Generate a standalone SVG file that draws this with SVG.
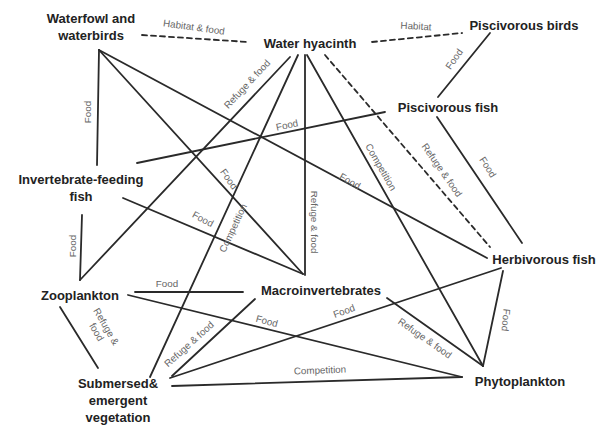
<svg xmlns="http://www.w3.org/2000/svg" width="605" height="429" viewBox="0 0 605 429">
<style>
.n{font-family:"Liberation Sans",Arial,sans-serif;font-weight:bold;font-size:13px;fill:#222;text-anchor:middle}
.l{font-family:"Liberation Sans",Arial,sans-serif;font-size:9.8px;fill:#666;text-anchor:middle;dominant-baseline:central}
.c{stroke:#2a2a2a;stroke-width:1.8;fill:none;stroke-linecap:round}
.d{stroke-dasharray:5,4}
</style>
<rect width="605" height="429" fill="#fff"/>
<g id="connectors">
<line class="c d" x1="142" y1="35" x2="248" y2="42"/>
<line class="c d" x1="372" y1="42" x2="462" y2="33"/>
<line class="c" x1="490" y1="33" x2="438" y2="97"/>
<line class="c" x1="99" y1="50" x2="97" y2="165"/>
<line class="c" x1="99" y1="50" x2="303" y2="274"/>
<line class="c" x1="99" y1="50" x2="487" y2="258"/>
<line class="c" x1="290" y1="57" x2="80" y2="280"/>
<line class="c" x1="298" y1="55" x2="150" y2="377"/>
<line class="c" x1="305" y1="55" x2="305" y2="275"/>
<line class="c" x1="307" y1="55" x2="483" y2="366"/>
<line class="c d" x1="325" y1="55" x2="490" y2="247"/>
<line class="c" x1="385" y1="112" x2="137" y2="163"/>
<line class="c" x1="437" y1="117" x2="522" y2="243"/>
<line class="c" x1="123" y1="198" x2="303" y2="274"/>
<line class="c" x1="82" y1="215" x2="80" y2="280"/>
<line class="c" x1="135" y1="292" x2="243" y2="292"/>
<line class="c" x1="128" y1="295" x2="462" y2="377"/>
<line class="c" x1="60" y1="307" x2="98" y2="368"/>
<line class="c" x1="255" y1="299" x2="172" y2="376"/>
<line class="c" x1="387" y1="298" x2="483" y2="366"/>
<line class="c" x1="503" y1="271" x2="483" y2="366"/>
<line class="c" x1="501" y1="268" x2="170" y2="378"/>
<line class="c" x1="172" y1="386" x2="462" y2="377"/>
</g>
<g id="connector-labels">
<text class="l" transform="translate(194,27) rotate(8)">Habitat &amp; food</text>
<text class="l" transform="translate(416,26) rotate(3)">Habitat</text>
<text class="l" transform="translate(454,59) rotate(-55)">Food</text>
<text class="l" transform="translate(87,112) rotate(-90)">Food</text>
<text class="l" transform="translate(247,84) rotate(-47)">Refuge &amp; food</text>
<text class="l" transform="translate(287,125) rotate(-12)">Food</text>
<text class="l" transform="translate(229,179) rotate(55)">Food</text>
<text class="l" transform="translate(233,228) rotate(-65)">Competition</text>
<text class="l" transform="translate(203,219) rotate(28)">Food</text>
<text class="l" transform="translate(314,222) rotate(90)">Refuge &amp; food</text>
<text class="l" transform="translate(350,181) rotate(30)">Food</text>
<text class="l" transform="translate(381,167) rotate(60)">Competition</text>
<text class="l" transform="translate(442,170) rotate(55)">Refuge &amp; food</text>
<text class="l" transform="translate(488,167) rotate(58)">Food</text>
<text class="l" transform="translate(72,246) rotate(-90)">Food</text>
<text class="l" transform="translate(167,283)">Food</text>
<text class="l" transform="translate(102,329) rotate(60)"><tspan x="0" y="-5.5">Refuge &amp;</tspan><tspan x="0" y="5.5">food</tspan></text>
<text class="l" transform="translate(267,321) rotate(15)">Food</text>
<text class="l" transform="translate(189,344) rotate(-42)">Refuge &amp; food</text>
<text class="l" transform="translate(344,311) rotate(-20)">Food</text>
<text class="l" transform="translate(425,338) rotate(35)">Refuge &amp; food</text>
<text class="l" transform="translate(506,320) rotate(95)">Food</text>
<text class="l" transform="translate(320,370) rotate(-2)">Competition</text>
</g>
<g id="waterfowl"><text class="n" x="91" y="23">Waterfowl and</text><text class="n" x="91" y="40">waterbirds</text></g>
<g id="water-hyacinth"><text class="n" x="310" y="48">Water hyacinth</text></g>
<g id="piscivorous-birds"><text class="n" x="524" y="30">Piscivorous birds</text></g>
<g id="piscivorous-fish"><text class="n" x="448" y="112">Piscivorous fish</text></g>
<g id="invertebrate-feeding-fish"><text class="n" x="81" y="184">Invertebrate-feeding</text><text class="n" x="81" y="201">fish</text></g>
<g id="herbivorous-fish"><text class="n" x="544" y="264">Herbivorous fish</text></g>
<g id="zooplankton"><text class="n" x="80" y="300">Zooplankton</text></g>
<g id="macroinvertebrates"><text class="n" x="321" y="295">Macroinvertebrates</text></g>
<g id="submersed-vegetation"><text class="n" x="118" y="388">Submersed&amp;</text><text class="n" x="118" y="405">emergent</text><text class="n" x="118" y="422">vegetation</text></g>
<g id="phytoplankton"><text class="n" x="520" y="386">Phytoplankton</text></g>
</svg>
